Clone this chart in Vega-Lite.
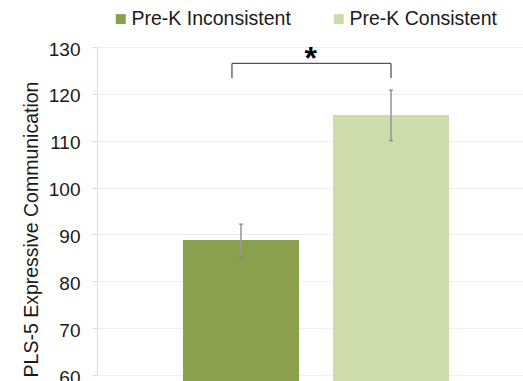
{
  "$schema": "https://vega.github.io/schema/vega-lite/v6.json",
  "autosize": "none",
  "width": 426,
  "height": 328,
  "padding": {"left": 97, "top": 47, "right": 0, "bottom": 6},
  "background": "white",
  "config": {
    "font": "Liberation Sans",
    "view": {"stroke": null}
  },
  "datasets": {
    "scores": [
      {"group": "Pre-K Inconsistent", "mean": 88.8, "lo": 85.3, "hi": 92.2},
      {"group": "Pre-K Consistent", "mean": 115.5, "lo": 110.0, "hi": 120.8}
    ],
    "bracket": [
      {"from": "Pre-K Inconsistent", "to": "Pre-K Consistent", "top": 126.5, "bottom": 123.4, "label": "*", "labelY": 125.3}
    ]
  },
  "layer": [
    {
      "data": {"name": "scores"},
      "mark": {"type": "bar"},
      "encoding": {
        "x": {
          "field": "group",
          "type": "nominal",
          "axis": null,
          "scale": {"domain": ["Pre-K Inconsistent", "Pre-K Consistent"], "paddingInner": 0.2267, "paddingOuter": 0.5333, "align": 0.5375}
        },
        "y": {
          "field": "mean",
          "type": "quantitative",
          "scale": {"domain": [60, 130], "nice": false, "zero": false},
          "axis": {
            "title": "PLS-5 Expressive Communication",
            "values": [60, 70, 80, 90, 100, 110, 120, 130],
            "titleFontSize": 19.5,
            "titleFontWeight": "normal",
            "titleColor": "#1a1a1a",
            "titleX": -60,
            "titleY": 182,
            "titleAlign": "center",
            "titleBaseline": "alphabetic",
            "titleAngle": -90,
            "labelFontSize": 19,
            "labelColor": "#1a1a1a",
            "labelPadding": 12,
            "labelOffset": 2,
            "domainColor": "#d3deec",
            "tickColor": "#d3deec",
            "tickSize": 5,
            "gridColor": "#efefef",
            "grid": true
          }
        },
        "color": {
          "field": "group",
          "type": "nominal",
          "scale": {"domain": ["Pre-K Inconsistent", "Pre-K Consistent"], "range": ["#8aa04c", "#cedcac"]},
          "legend": {
            "title": null,
            "orient": "none",
            "direction": "horizontal",
            "legendX": 14,
            "legendY": -38,
            "padding": 0,
            "symbolType": "square",
            "symbolSize": 100,
            "symbolStrokeWidth": 0,
            "labelFontSize": 19.5,
            "labelColor": "#1a1a1a",
            "labelOffset": 1,
            "columnPadding": 38
          }
        }
      }
    },
    {
      "data": {"name": "scores"},
      "mark": {"type": "rule", "color": "#9a9a9a", "strokeWidth": 1.6},
      "encoding": {
        "x": {"field": "group", "type": "nominal"},
        "y": {"field": "lo", "type": "quantitative"},
        "y2": {"field": "hi"}
      }
    },
    {
      "data": {"name": "scores"},
      "mark": {"type": "tick", "color": "#7a7a7a", "size": 4, "thickness": 1.5},
      "encoding": {
        "x": {"field": "group", "type": "nominal"},
        "y": {"field": "lo", "type": "quantitative"}
      }
    },
    {
      "data": {"name": "scores"},
      "mark": {"type": "tick", "color": "#7a7a7a", "size": 4, "thickness": 1.5},
      "encoding": {
        "x": {"field": "group", "type": "nominal"},
        "y": {"field": "hi", "type": "quantitative"}
      }
    },
    {
      "data": {"name": "bracket"},
      "mark": {"type": "rule", "color": "#555555", "strokeWidth": 1.3},
      "encoding": {
        "x": {"field": "from", "type": "nominal", "bandPosition": 0.422},
        "x2": {"field": "to", "bandPosition": 0.5},
        "y": {"field": "top", "type": "quantitative"}
      }
    },
    {
      "data": {"name": "bracket"},
      "mark": {"type": "rule", "color": "#555555", "strokeWidth": 1.3},
      "encoding": {
        "x": {"field": "from", "type": "nominal", "bandPosition": 0.422},
        "y": {"field": "bottom", "type": "quantitative"},
        "y2": {"field": "top"}
      }
    },
    {
      "data": {"name": "bracket"},
      "mark": {"type": "rule", "color": "#555555", "strokeWidth": 1.3},
      "encoding": {
        "x": {"field": "to", "type": "nominal"},
        "y": {"field": "bottom", "type": "quantitative"},
        "y2": {"field": "top"}
      }
    },
    {
      "data": {"name": "bracket"},
      "mark": {"type": "text", "fontSize": 32, "fontWeight": "bold", "baseline": "alphabetic", "align": "center", "color": "#000000"},
      "encoding": {
        "x": {"field": "from", "type": "nominal", "bandPosition": 1.1},
        "y": {"field": "labelY", "type": "quantitative"},
        "text": {"field": "label"}
      }
    }
  ]
}
